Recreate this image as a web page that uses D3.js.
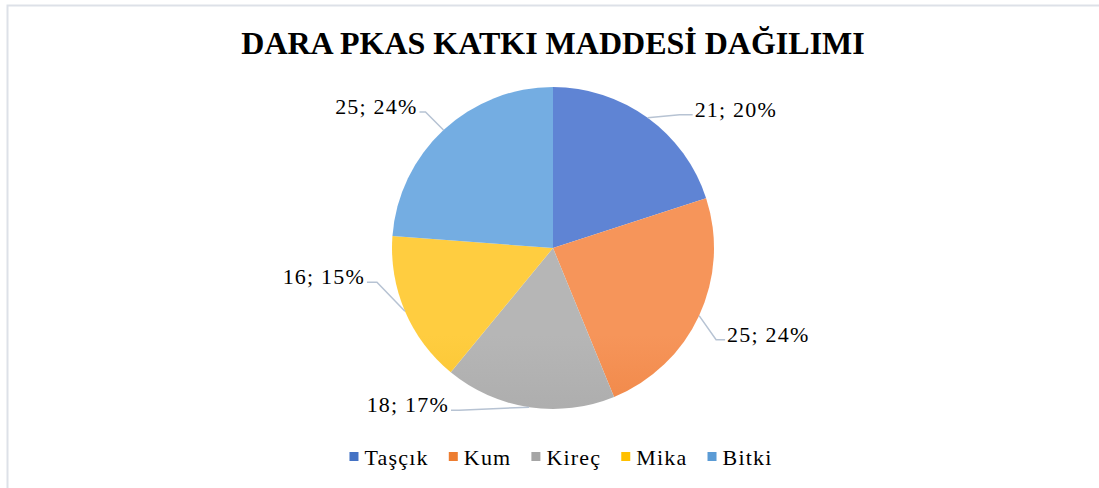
<!DOCTYPE html>
<html>
<head>
<meta charset="utf-8">
<script src="https://cdn.jsdelivr.net/npm/d3@7"></script>
<style>
  html, body { margin: 0; padding: 0; background: #fff; }
  svg { display: block; }
  text { font-family: "Liberation Serif", "Times New Roman", serif; }
</style>
</head>
<body>
<svg id="chart" width="1099" height="488"></svg>
<script>
// Data
const categories = ["Taşçık", "Kum", "Kireç", "Mika", "Bitki"];
const values = [21, 25, 18, 16, 25];
const percentLabels = ["20%", "24%", "17%", "15%", "24%"];
const titleText = "DARA PKAS KATKI MADDESİ DAĞILIMI";

// Slice colours: light (top) and dark (bottom) gradient stops
const colorTop = ["#5f84d4", "#f6955a", "#b6b6b6", "#ffcd40", "#74ade2"];
const colorBottom = ["#2f5fbf", "#e06012", "#929292", "#e2aa00", "#4389cd"];
const legendColor = ["#4472c4", "#ed7d31", "#a5a5a5", "#ffc000", "#5b9bd5"];

// Layout
const W = 1099, H = 488;
const cx = 553, cy = 248, R = 161;
// Leader elbow offsets (dx, dy from slice edge point) and horizontal run
const elbow = [[32, -3], [17, 24], [-70, 3], [-28, -29], [-18, -18]];
const run = [13, 9, 8, 10, 6];

const svg = d3.select("#chart");

// Frame
svg.append("rect")
  .attr("x", 7.5).attr("y", 5.5)
  .attr("width", W + 20).attr("height", H + 20)
  .attr("fill", "none").attr("stroke", "#dde1e8").attr("stroke-width", 2);

// Title
svg.append("text")
  .attr("x", 553).attr("y", 54)
  .attr("text-anchor", "middle")
  .attr("font-size", 32).attr("font-weight", "bold")
  .attr("fill", "#000")
  .text(titleText);

// Gradients
const defs = svg.append("defs");
categories.forEach((c, i) => {
  const g = defs.append("linearGradient")
    .attr("id", "grad" + i)
    .attr("gradientUnits", "userSpaceOnUse")
    .attr("x1", 0).attr("x2", 0)
    .attr("y1", cy - R).attr("y2", cy + R);
  g.append("stop").attr("offset", "0%").attr("stop-color", colorTop[i]);
  g.append("stop").attr("offset", "100%").attr("stop-color", colorBottom[i]);
});

const pie = d3.pie().sort(null).value(d => d)(values);
const arc = d3.arc().innerRadius(0).outerRadius(R);

const g = svg.append("g").attr("transform", `translate(${cx},${cy})`);

g.selectAll("path.slice")
  .data(pie)
  .join("path")
  .attr("class", "slice")
  .attr("d", arc)
  .attr("fill", (d, i) => `url(#grad${i})`);

// Leader lines and labels
pie.forEach((d, i) => {
  const a = (d.startAngle + d.endAngle) / 2;
  const p0 = [R * Math.sin(a), -R * Math.cos(a)];
  const p1 = [p0[0] + elbow[i][0], p0[1] + elbow[i][1]];
  const right = Math.sin(a) > 0 && i < 2;
  const p2 = [p1[0] + (right ? run[i] : -run[i]), p1[1]];
  g.append("polyline")
    .attr("points", [p0, p1, p2].map(p => p.join(",")).join(" "))
    .attr("fill", "none")
    .attr("stroke", "#b7c3d3")
    .attr("stroke-width", 1.5);
  g.append("text")
    .attr("x", p2[0] + (right ? 2 : -2))
    .attr("y", p2[1])
    .attr("dy", "0.1em")
    .attr("text-anchor", right ? "start" : "end")
    .attr("font-size", 22)
    .attr("letter-spacing", 1.2)
    .attr("fill", "#000")
    .text(`${values[i]}; ${percentLabels[i]}`);
});

// Legend
const legend = svg.append("g");
const items = legend.selectAll("g.item")
  .data(categories)
  .join("g")
  .attr("class", "item");
items.append("rect")
  .attr("width", 9).attr("height", 9)
  .attr("y", 452)
  .attr("fill", (d, i) => legendColor[i]);
items.append("text")
  .attr("x", 15)
  .attr("y", 465)
  .attr("font-size", 22)
  .attr("letter-spacing", 1.2)
  .attr("fill", "#000")
  .text(d => d);
let xPos = 0;
const offsets = [];
items.each(function () {
  offsets.push(xPos);
  const w = d3.select(this).select("text").node().getComputedTextLength();
  xPos += 15 + w + 20;
});
const totalW = xPos - 20;
const startX = 561 - totalW / 2;
items.attr("transform", (d, i) => `translate(${startX + offsets[i]},0)`);
</script>
</body>
</html>
